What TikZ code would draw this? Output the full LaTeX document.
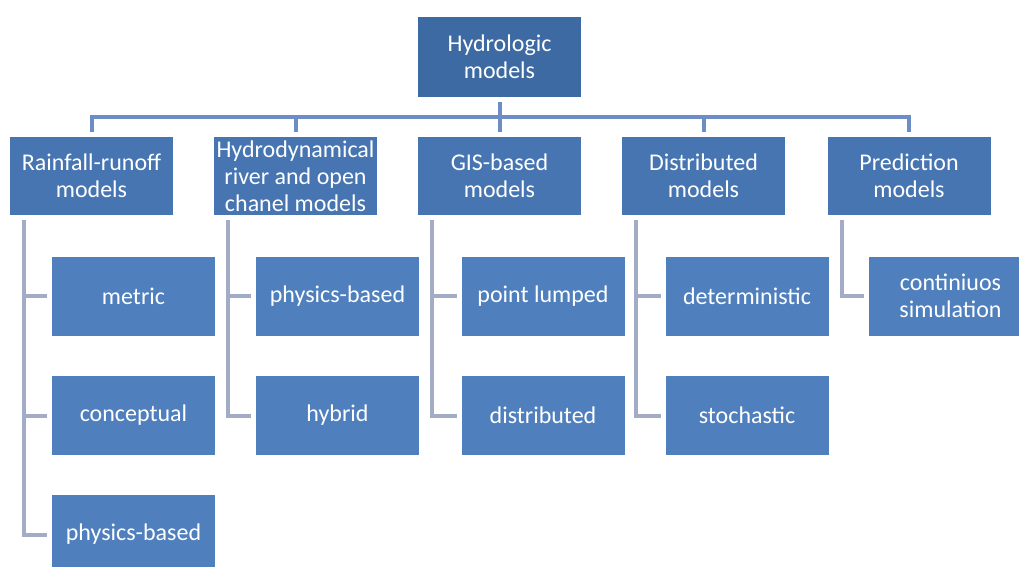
\documentclass[tikz,border=0pt]{standalone}
\usepackage{fontspec}
\setmainfont{Carlito}
\usepackage{xcolor}

\definecolor{topblue}{HTML}{3E6AA3}
\definecolor{midblue}{HTML}{4675B2}
\definecolor{lightblue}{HTML}{4F80BD}
\definecolor{trunkblue}{HTML}{6C8DC6}
\definecolor{branchgrey}{HTML}{A2ADC5}

\begin{document}
\begin{tikzpicture}[x=1pt, y=-1pt,
    every node/.style={text=white, align=center, inner sep=0pt, outer sep=0pt,
        minimum width=163pt, font=\fontsize{24}{27}\selectfont},
    topbox/.style={fill=topblue, minimum height=80pt},
    modelbox/.style={fill=midblue, minimum height=78pt},
    subbox/.style={fill=lightblue, minimum height=79pt},
    trunk/.style={draw=trunkblue, line width=4pt},
    branch/.style={draw=branchgrey, line width=4pt}]
    % Page area
    \clip (0,0) rectangle (1019,567);
    \fill[white] (0,0) rectangle (1019,567);

    % Root
    \node[topbox] (hydro) at (499.5, 57) {Hydrologic\\models};

    % Model groups
    \node[modelbox] (rainfall) at (91.5, 176) {Rainfall-runoff\\models};
    \node[modelbox] (hydrodyn) at (295.5, 176) {Hydrodynamical\\river and open\\chanel models};
    \node[modelbox] (gis) at (499.5, 176) {GIS-based\\models};
    \node[modelbox] (distrib) at (703.5, 176) {Distributed\\models};
    \node[modelbox] (predict) at (909, 176) {Prediction\\models};

    % Sub-models
    \node[subbox] (rainfall-metric) at (133.5, 296) {metric};
    \node[subbox] (rainfall-concept) at (133.5, 415.5) {conceptual};
    \node[subbox] (rainfall-physics) at (133.5, 534.5) {physics-based};
    \node[subbox] (hydrodyn-physics) at (337.5, 296) {physics-based};
    \node[subbox] (hydrodyn-hybrid) at (337.5, 415.5) {hybrid};
    \node[subbox] (gis-point) at (543, 296) {point lumped};
    \node[subbox] (gis-distrib) at (543, 415.5) {distributed};
    \node[subbox] (distrib-determ) at (747, 296) {deterministic};
    \node[subbox] (distrib-stoch) at (747, 415.5) {stochastic};
    \node[subbox] (predict-cont) at (950.5, 296) {continiuos\\simulation};

    % Root connectors
    \draw[trunk] ([yshift=-5pt]hydro.south) -- ([yshift=5pt]gis.north);
    \draw[trunk] ([yshift=5pt]rainfall.north) -- ++(0,-15) -| ([yshift=5pt]predict.north);
    \draw[trunk] ([yshift=5pt]hydrodyn.north) -- ++(0,-15);
    \draw[trunk] ([yshift=5pt]distrib.north) -- ++(0,-15);

    % Sub-model connectors
    \foreach \p/\c in {rainfall/rainfall-metric, rainfall/rainfall-concept, rainfall/rainfall-physics,
                       hydrodyn/hydrodyn-physics, hydrodyn/hydrodyn-hybrid,
                       gis/gis-point, gis/gis-distrib,
                       distrib/distrib-determ, distrib/distrib-stoch,
                       predict/predict-cont}
        \draw[branch] ([xshift=14pt, yshift=-5pt]\p.south west) |- ([xshift=-5pt]\c.west);

\end{tikzpicture}
\end{document}
